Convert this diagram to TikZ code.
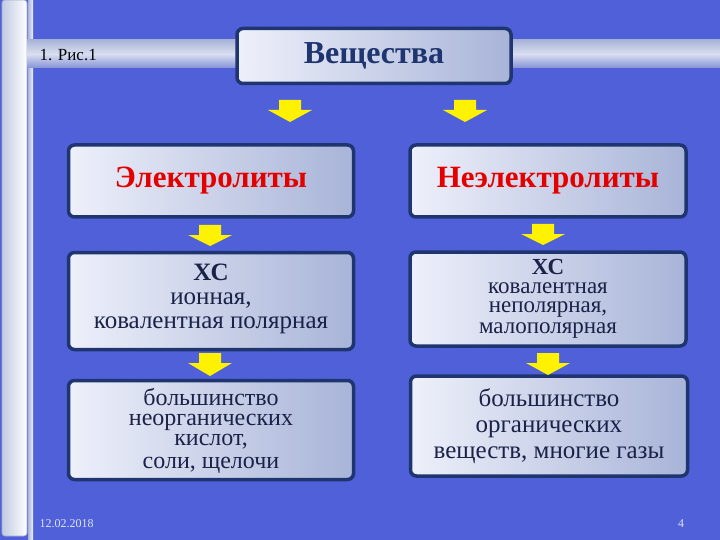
\documentclass[tikz,border=0pt]{standalone}
\usepackage{fontspec}
\setmainfont{Liberation Serif}
\definecolor{bg}{HTML}{5060D8}
\definecolor{navy}{HTML}{1F3570}
\definecolor{txt}{HTML}{1A2248}
\definecolor{gl}{HTML}{EEF0FA}
\definecolor{gr}{HTML}{A8B4D8}
\definecolor{yel}{HTML}{FFF200}
\begin{document}
\begin{tikzpicture}[x=1pt,y=-1pt,
  card/.style={draw=navy,line width=3.5pt,rounded corners=6pt,left color=gl,right color=gr,inner sep=0pt},
  txtbox/.style={text=txt,align=center,font=\fontsize{25}{24}\selectfont},
  yarrow/.style={fill=yel,draw=none}]
\useasboundingbox (0,0) rectangle (720,540);
\fill[bg] (0,0) rectangle (720,540);
% left bars
\shade[left color=gr!70!white,right color=white,rounded corners=3pt] (2,0) rectangle (27,536);
\draw[navy!40,line width=0.6pt,rounded corners=3pt] (2,0) rectangle (27,536);
\shade[left color=gr,right color=gl] (28,0) rectangle (33,540);
% horizontal bands
\shade[top color=gr,bottom color=gr!60!bg,middle color=gl!70!gr] (27,40) rectangle (236,68);
\shade[top color=gr,bottom color=gr!60!bg,middle color=gl!70!gr] (512,40) rectangle (720,68);
\node[anchor=west,font=\fontsize{17}{17}\selectfont,text=black] (fig) at (36,55) {1. Рис.1};
% title
\node[card,minimum width=274pt,minimum height=55pt,font=\bfseries\fontsize{32}{32}\selectfont,text=navy] (title) at (374,56) {Вещества};
% boxes
\node[card,minimum width=285pt,minimum height=72pt,font=\bfseries\fontsize{31}{31}\selectfont,text=red!90!black] (el) at (211,181) {Электролиты};
\node[card,minimum width=276pt,minimum height=72pt,font=\bfseries\fontsize{31}{31}\selectfont,text=red!90!black] (nel) at (548,181) {Неэлектролиты};
\node[card,minimum width=285pt,minimum height=97pt] (b2l) at (211,301) {};
\node[txtbox] (t2l) at (211,299) {\textbf{ХС}\\ионная,\\ковалентная полярная};
\node[card,minimum width=276pt,minimum height=94pt] (b2r) at (548,299) {};
\node[txtbox,font=\fontsize{23}{19}\selectfont] (t2r) at (548,299) {\textbf{ХС}\\ковалентная\\неполярная,\\[2pt]малополярная};
\node[card,minimum width=285pt,minimum height=99pt] (b3l) at (211,430) {};
\node[txtbox,font=\fontsize{24}{20}\selectfont] (t3l) at (211,431) {большинство\\неорганических\\кислот,\\[3pt]соли, щелочи};
\node[card,minimum width=277pt,minimum height=100pt] (b3r) at (549,426) {};
\node[txtbox,font=\fontsize{25}{26}\selectfont] (t3r) at (549,426) {большинство\\органических\\веществ, многие газы};
% arrows
\foreach \cx/\ty/\by in {290/100/122, 465/100/122, 210/225/246, 543/224/245, 210/353/376, 548/353/375}{
  \fill[yarrow] (\cx-11,\ty) -- (\cx+11,\ty) -- (\cx+11,\ty+10) -- (\cx+22,\ty+10) -- (\cx,\by) -- (\cx-22,\ty+10) -- (\cx-11,\ty+10) -- cycle;
}
\node[anchor=west,font=\fontsize{12}{12}\selectfont,text=gl!80!gr] (date) at (36,524) {12.02.2018};
\node[font=\fontsize{12}{12}\selectfont,text=gl!80!gr] (pg) at (681,524) {4};
\end{tikzpicture}
\end{document}
